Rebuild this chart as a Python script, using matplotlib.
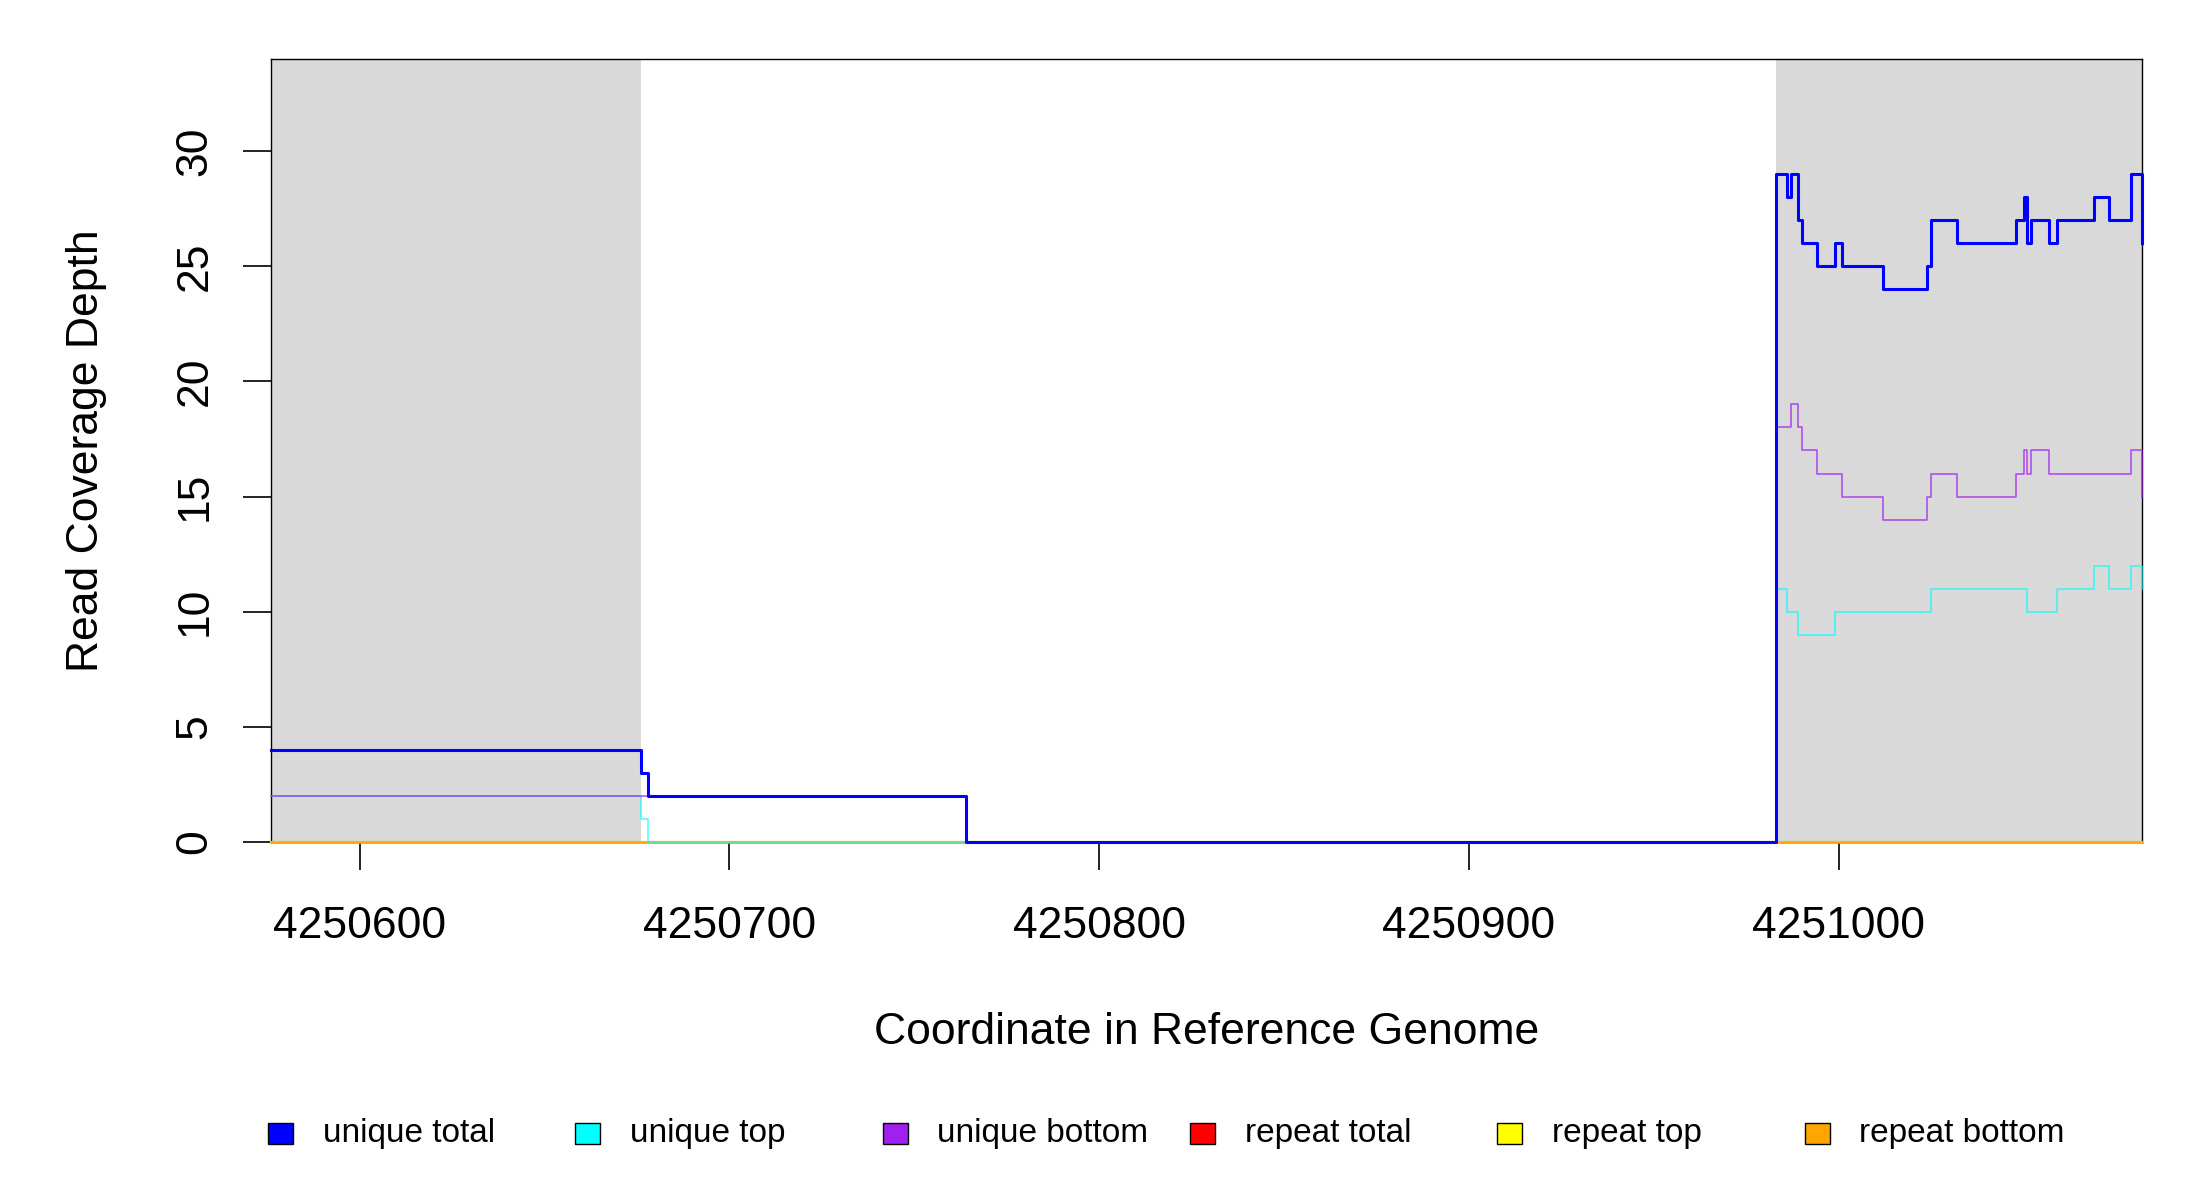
import matplotlib
matplotlib.use("Agg")
import matplotlib.pyplot as plt
from matplotlib.patches import Rectangle

plt.rcParams['font.family'] = ['Liberation Sans', 'DejaVu Sans']

# coverage steps: depth holds from each position until the next one
pos_total = [4250576, 4250676, 4250678, 4250764, 4250983, 4250986, 4250987, 4250989,
             4250990, 4250994, 4250999, 4251001, 4251012, 4251024, 4251025, 4251032,
             4251048, 4251050, 4251051, 4251052, 4251057, 4251059, 4251069, 4251073,
             4251079, 4251082]
unique_total = [4, 3, 2, 0, 29, 28, 29, 27, 26, 25, 26, 25, 24, 25, 27, 26,
                27, 28, 26, 27, 26, 27, 28, 27, 29, 26]

pos_top = [4250576, 4250676, 4250678, 4250983, 4250986, 4250989, 4250999, 4251025,
           4251051, 4251059, 4251069, 4251073, 4251079, 4251082]
unique_top = [2, 1, 0, 11, 10, 9, 10, 11, 10, 11, 12, 11, 12, 11]

pos_bottom = [4250576, 4250764, 4250983, 4250987, 4250989, 4250990, 4250994, 4251001,
              4251012, 4251024, 4251025, 4251032, 4251048, 4251050, 4251051, 4251052,
              4251057, 4251079, 4251082]
unique_bottom = [2, 0, 18, 19, 18, 17, 16, 15, 14, 15, 16, 15, 16, 17, 16, 17, 16, 17, 15]

pos_repeat = [4250576, 4251082]
repeat_total = [0, 0]
repeat_top = [0, 0]
repeat_bottom = [0, 0]

# flanking regions shaded grey
shaded = [(4250576, 4250676), (4250983, 4251082)]
x_range = (4250576, 4251082)
x_ticks = [4250600, 4250700, 4250800, 4250900, 4251000]
y_ticks = [0, 5, 10, 15, 20, 25, 30]
y_max = 34

legend_labels = ["unique total", "unique top", "unique bottom",
                 "repeat total", "repeat top", "repeat bottom"]
legend_colors = ["#0000FF", "#00FFFF", "#A020F0", "#FF0000", "#FFFF00", "#FFA500"]

fig = plt.figure(figsize=(22, 12), dpi=100)
ax = fig.add_axes([0.1231, 0.2983, 0.8505, 0.6526])

for a, b in shaded:
    ax.axvspan(a, b, color="#D9D9D9", lw=0, zorder=0)

ax.step(pos_repeat, repeat_total, where="post", color="#FF0000", lw=1.5, zorder=3, clip_on=False)
ax.step(pos_repeat, repeat_top, where="post", color="#FFFF00", lw=1.5, zorder=3, clip_on=False)
ax.step(pos_repeat, repeat_bottom, where="post", color="#FFA500", lw=1.8, zorder=3, clip_on=False)
ax.step(pos_top, unique_top, where="post", color="#00FFFF", lw=1.1, alpha=0.75, zorder=4, clip_on=False)
ax.step(pos_bottom, unique_bottom, where="post", color="#A020F0", lw=1.1, alpha=0.8, zorder=5, clip_on=False)
ax.step(pos_total, unique_total, where="post", color="#0000FF", lw=2.2, zorder=6, clip_on=False)

ax.set_xlim(*x_range)
ax.set_ylim(0, y_max)
ax.set_xticks(x_ticks)
ax.set_xticklabels([str(t) for t in x_ticks])
ax.set_yticks(y_ticks)
ax.set_yticklabels([str(t) for t in y_ticks], rotation=90, va="center")
ax.tick_params(axis="both", direction="out", length=20, width=1.2, labelsize=32, color="black")
ax.tick_params(axis="x", pad=26)
ax.tick_params(axis="y", pad=20)
for s in ax.spines.values():
    s.set_linewidth(1.0)
    s.set_color("black")

ax.set_xlabel("Coordinate in Reference Genome", fontsize=32)
ax.xaxis.set_label_coords(0.5, -0.243)
ax.xaxis.label.set_va("center")
ax.set_ylabel("Read Coverage Depth", fontsize=32)
ax.yaxis.set_label_coords(-0.0983, 0.5)
ax.yaxis.label.set_va("center")

# legend row under the plot, equal column widths
x0, step, y0 = 0.1218, 0.1397, 0.0552
pw, ph = 0.0114, 0.0175
for i, (lab, col) in enumerate(zip(legend_labels, legend_colors)):
    xc = x0 + i * step
    fig.add_artist(Rectangle((xc, y0 - ph / 2), pw, ph, transform=fig.transFigure,
                             facecolor=col, edgecolor="black", lw=1.0))
    fig.text(xc + 0.0248, y0, lab, fontsize=24, va="center", ha="left")

fig.savefig("out.png", dpi=100)
